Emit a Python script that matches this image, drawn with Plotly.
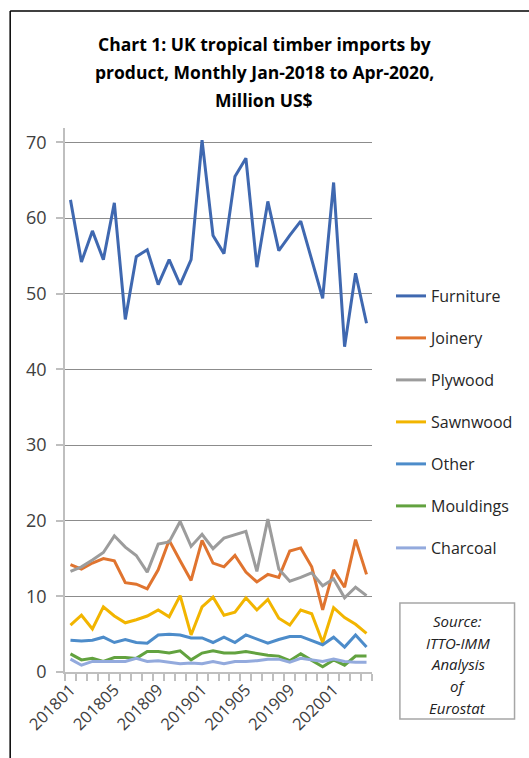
import plotly.graph_objects as go

# Monthly periods Jan-2018 .. Apr-2020
periods = [f"{y}{m:02d}" for y in (2018, 2019, 2020) for m in range(1, 13)][:28]
tick_labels = ["201801", "201805", "201809", "201901", "201905", "201909", "202001"]

furniture = [62.4, 54.2, 58.3, 54.5, 62.0, 46.6, 54.9, 55.8, 51.2, 54.5, 51.2, 54.5, 70.3, 57.7,
             55.3, 65.5, 67.9, 53.5, 62.2, 55.7, 57.7, 59.6, 54.5, 49.4, 64.7, 43.0, 52.7, 46.1]
joinery = [14.2, 13.6, 14.4, 15.0, 14.7, 11.8, 11.6, 11.0, 13.5, 17.4, 14.7, 12.1, 17.4, 14.4,
           13.9, 15.4, 13.2, 11.9, 12.9, 12.5, 16.0, 16.4, 13.9, 8.2, 13.5, 11.2, 17.5, 12.9]
plywood = [13.3, 13.9, 14.8, 15.8, 18.0, 16.5, 15.4, 13.2, 16.9, 17.2, 19.9, 16.6, 18.2, 16.3,
           17.7, 18.2, 18.6, 13.3, 20.2, 13.6, 12.0, 12.5, 13.1, 11.4, 12.3, 9.8, 11.2, 10.1]
sawnwood = [6.2, 7.5, 5.7, 8.6, 7.4, 6.5, 6.9, 7.4, 8.2, 7.3, 10.1, 4.9, 8.6, 9.9,
            7.5, 7.9, 9.8, 8.2, 9.6, 7.1, 6.2, 8.2, 7.7, 3.9, 8.5, 7.2, 6.3, 5.1]
other = [4.2, 4.1, 4.2, 4.6, 3.9, 4.3, 3.9, 3.8, 4.9, 5.0, 4.9, 4.5, 4.5, 3.9,
         4.6, 3.9, 4.9, 4.3, 3.8, 4.3, 4.7, 4.7, 4.2, 3.6, 4.6, 3.3, 4.9, 3.3]
mouldings = [2.4, 1.6, 1.8, 1.4, 1.9, 1.9, 1.8, 2.7, 2.7, 2.5, 2.8, 1.6, 2.5, 2.8,
             2.5, 2.5, 2.7, 2.4, 2.2, 2.1, 1.5, 2.4, 1.6, 0.7, 1.6, 0.9, 2.1, 2.1]
charcoal = [1.7, 0.9, 1.4, 1.4, 1.4, 1.4, 1.8, 1.4, 1.5, 1.3, 1.1, 1.2, 1.1, 1.4,
            1.1, 1.4, 1.4, 1.5, 1.7, 1.7, 1.3, 1.8, 1.6, 1.4, 1.7, 1.4, 1.3, 1.3]

series = [
    ("Furniture", furniture, "#3F68B0"),
    ("Joinery", joinery, "#E0742F"),
    ("Plywood", plywood, "#9C9C9C"),
    ("Sawnwood", sawnwood, "#F2B500"),
    ("Other", other, "#4D8CCA"),
    ("Mouldings", mouldings, "#62A23F"),
    ("Charcoal", charcoal, "#93AADD"),
]

W, H = 529, 758
L, R, T, B = 65, 373, 128, 672  # plot area in pixels

def px(x):
    return (x - L) / (R - L)

def py(y):
    return (B - y) / (B - T)

xs = list(range(len(periods)))

fig = go.Figure()
for i, (name, vals, color) in enumerate(series):
    fig.add_trace(go.Scatter(
        x=xs, y=vals, name=name, mode="lines", legendgroup=f"g{i}",
        line=dict(color=color, width=3),
        customdata=periods,
        hovertemplate="%{customdata}: %{y}<extra>" + name + "</extra>",
    ))

shapes = [
    # outer frame (top and left edges)
    dict(type="line", xref="paper", yref="paper", x0=px(10), x1=px(W + 5), y0=py(11), y1=py(11),
         line=dict(color="black", width=1.5)),
    dict(type="line", xref="paper", yref="paper", x0=px(10), x1=px(10), y0=py(11), y1=py(H + 5),
         line=dict(color="black", width=1.5)),
    # source box
    dict(type="rect", xref="paper", yref="paper", x0=px(401), x1=px(516), y0=py(603), y1=py(719),
         line=dict(color="#A6A6A6", width=1.5), fillcolor="white"),
]

annotations = []
title_lines = ["Chart 1: UK tropical timber imports by",
               "product, Monthly Jan-2018 to Apr-2020,",
               "Million US$"]
for k, t in enumerate(title_lines):
    annotations.append(dict(text=f"<b>{t}</b>", xref="paper", yref="paper", x=px(265), y=py(44 + 28 * k),
                            xanchor="center", yanchor="middle", showarrow=False,
                            font=dict(size=17.5, color="black", family="Open Sans, Arial")))
src_lines = ["Source:", "ITTO-IMM", "Analysis", "of", "Eurostat"]
for k, t in enumerate(src_lines):
    annotations.append(dict(text=f"<i>{t}</i>", xref="paper", yref="paper", x=px(459), y=py(621 + 21.7 * k),
                            xanchor="center", yanchor="middle", showarrow=False,
                            font=dict(size=15, color="#222222", family="Open Sans, Arial")))

fig.update_layout(
    width=W, height=H,
    margin=dict(l=L, r=W - R, t=T, b=H - B),
    paper_bgcolor="white", plot_bgcolor="white",
    font=dict(family="Open Sans, Arial", color="#404040"),
    showlegend=True,
    legend=dict(x=px(391), y=py(279), xanchor="left", yanchor="top",
                font=dict(size=16, color="#262626"), tracegroupgap=18.2,
                bgcolor="rgba(0,0,0,0)"),
    shapes=shapes, annotations=annotations,
    hovermode="closest",
)
fig.update_xaxes(
    range=[-0.5, len(periods) - 0.5],
    tickmode="array", tickvals=[periods.index(t) for t in tick_labels], ticktext=tick_labels,
    tickangle=-45, ticks="", tickfont=dict(size=16.5, color="#404040"),
    showline=True, linecolor="#BFBFBF", linewidth=1.5,
    showgrid=False, zeroline=False,
    minor=dict(tick0=-0.5, dtick=1, ticks="outside", ticklen=7, tickcolor="#BFBFBF", tickwidth=1.5),
)
fig.update_yaxes(
    range=[0, 71.9], tickmode="array", tickvals=[0, 10, 20, 30, 40, 50, 60, 70],
    ticks="outside", ticklen=7, tickcolor="#BFBFBF", tickwidth=1.5,
    tickfont=dict(size=18, color="#404040"),
    showline=True, linecolor="#BFBFBF", linewidth=1.5,
    showgrid=True, gridcolor="#8C8C8C", gridwidth=1, zeroline=False,
    ticklabelstandoff=6,
)

fig.write_html("out.html")
